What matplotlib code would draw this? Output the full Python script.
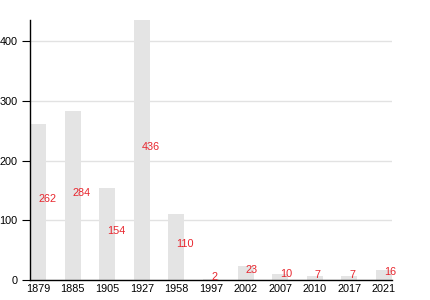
import matplotlib
matplotlib.use('Agg')
import matplotlib.pyplot as plt

# population by census year
years = ['1879', '1885', '1905', '1927', '1958', '1997', '2002', '2007', '2010', '2017', '2021']
values = [262, 284, 154, 436, 110, 2, 23, 10, 7, 7, 16]

plt.rcParams['font.family'] = ['Liberation Sans', 'DejaVu Sans']

fig = plt.figure(figsize=(4.3, 3.0), dpi=100)
ax = fig.add_axes([30 / 430, 20 / 300, 362 / 430, 260 / 300])

w = 0.464
pos = list(range(len(years)))
ax.bar(pos, values, width=w, align='edge', color='#e4e4e4', zorder=2)

for i, v in enumerate(values):
    ax.annotate(str(v), (i + w / 2, v / 2), xytext=(0, 2), textcoords='offset points',
                ha='left', va='center', color='#e8262e', fontsize=7.8, zorder=3)

ax.set_xlim(0, len(years) - 1 + w)
ax.set_ylim(0, max(values))
ax.set_xticks([p + w / 2 for p in pos])
ax.set_xticklabels(years)
ax.set_yticks([0, 100, 200, 300, 400])
ax.tick_params(axis='x', length=0, labelsize=7.8, pad=3)
ax.tick_params(axis='y', length=6, width=0.8, labelsize=7.8, pad=3)
ax.yaxis.grid(True, color='#e2e2e2', linewidth=1, zorder=0)
ax.set_axisbelow(True)
for s in ['top', 'right']:
    ax.spines[s].set_visible(False)
ax.spines['left'].set_linewidth(1)
ax.spines['bottom'].set_linewidth(1)

fig.savefig('out.png', dpi=100)
